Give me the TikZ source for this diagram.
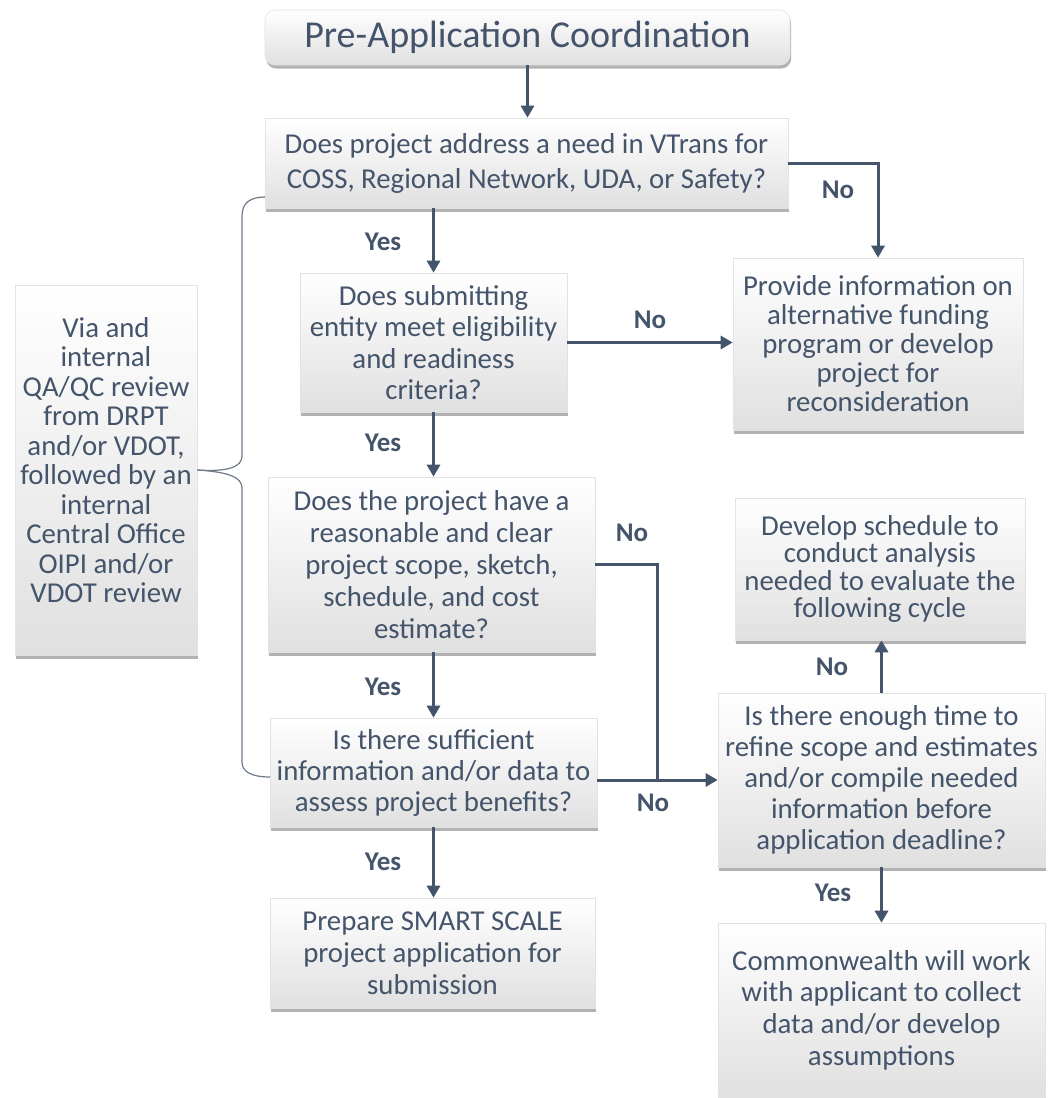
\documentclass[tikz,border=0pt]{standalone}
\usepackage{fontspec}
\setmainfont{Carlito}
\usetikzlibrary{shadows,arrows.meta,calc}
\definecolor{txt}{HTML}{44546A}
\definecolor{ln}{HTML}{44546A}
\definecolor{brc}{HTML}{6F7A8A}
\definecolor{bord}{HTML}{E2E2E2}
\definecolor{shd}{HTML}{E0E0E0}
\begin{document}
\begin{tikzpicture}[x=1pt,y=-1pt,
 box/.style={draw=bord, line width=0.6pt, top color=white, middle color=white, bottom color=shd,
   drop shadow={shadow xshift=1.2pt, shadow yshift=-3.5pt, fill=black!75, opacity=0.4},
   text=txt, inner sep=0pt, align=center},
 f/.style={font=\fontsize{28.8}{#1}\selectfont},
 lab/.style={text=txt, font=\fontsize{27}{30}\selectfont\bfseries},
 arr/.style={draw=ln, line width=3pt, -{Triangle[length=12pt,width=13pt]}},
 lin/.style={draw=ln, line width=3pt},
 brace/.style={draw=brc, line width=1.2pt}]
\useasboundingbox[fill=white] (0,0) rectangle (1049,1098);

\node[box, rounded corners=10pt, minimum width=525pt, minimum height=55pt,
  font=\fontsize{38}{44}\selectfont] (T) at (527.5,37.5) {Pre-Application Coordination};
\node[box, f=35, minimum width=523pt, minimum height=90pt] (A) at (526.5,163)
  {Does project address a need in VTrans for\\COSS, Regional Network, UDA, or Safety?};
\node[box, f=31.5, minimum width=267pt, minimum height=139pt] (B) at (433.5,342.5)
  {Does submitting\\entity meet eligibility\\and readiness\\criteria?};
\node[box, f=32, minimum width=327pt, minimum height=175pt] (C) at (431.5,564.5)
  {Does the project have a\\reasonable and clear\\project scope, sketch,\\schedule, and cost\\estimate?};
\node[box, f=31, minimum width=327pt, minimum height=109pt] (D) at (433.5,772.5)
  {Is there sufficient\\information and/or data to\\assess project benefits?};
\node[box, f=32, minimum width=325pt, minimum height=110pt] (F) at (432.5,953)
  {Prepare SMART SCALE\\project application for\\submission};
\node[box, f=29.5, minimum width=182pt, minimum height=370pt] (L) at (106,470)
  {Via and\\internal\\QA/QC review\\from DRPT\\and/or VDOT,\\followed by an\\internal\\Central Office\\OIPI and/or\\VDOT review\\[-9.5pt]};
\node[box, f=29, minimum width=290pt, minimum height=172pt] (P) at (878,344)
  {Provide information on\\alternative funding\\program or develop\\project for\\reconsideration};
\node[box, f=27.5, minimum width=290pt, minimum height=142pt] (G) at (880,569)
  {Develop schedule to\\conduct analysis\\needed to evaluate the\\following cycle};
\node[box, f=31, minimum width=327pt, minimum height=174pt] (E) at (881.5,780)
  {Is there enough time to\\refine scope and estimates\\and/or compile needed\\information before\\application deadline?};
\node[box, f=31.7, minimum width=327pt, minimum height=174pt] (H) at (881.5,1010)
  {Commonwealth will work\\with applicant to collect\\data and/or develop\\assumptions};

\coordinate (J) at (657,780);
\coordinate (bt) at (265,197);
\coordinate (bb) at (270,777);

% connectors
\draw[arr] (T.south) -- (T.south |- A.north);
\draw[arr] (A.east) -| (P.north);
\draw[arr] (B.north |- A.south) -- (B.north);
\draw[arr] (B.east) -- (B.east -| P.west);
\draw[arr] (B.south) -- (B.south |- C.north);
\draw[arr] (C.south -| B.south) -- (B.south |- D.north);
\draw[arr] (D.south -| B.south) -- (B.south |- F.north);
\draw[lin] (C.east) -| (J);
\draw[arr] (D.east |- E.west) -- (E.west);
\draw[arr] (E.north) -- (E.north |- G.south);
\draw[arr] (E.south) -- (E.south |- H.north);

% brace
\draw[brace] (bt) .. controls (250,197) and (242,203) .. (242,216) -- (242,456)
  .. controls (242,467) and (228,472) .. (L.east);
\draw[brace] (L.east) .. controls (228,472) and (242,477) .. (242,488) -- (242,762)
  .. controls (242,772) and (252,777) .. (bb);

% labels
\node[lab] (l1) at (838,190) {No};
\node[lab] (l2) at (383,242) {Yes};
\node[lab] (l3) at (650,320) {No};
\node[lab] (l4) at (383,443) {Yes};
\node[lab] (l5) at (632,533) {No};
\node[lab] (l6) at (383,687) {Yes};
\node[lab] (l7) at (653,803) {No};
\node[lab] (l8) at (383,862) {Yes};
\node[lab] (l9) at (832,667) {No};
\node[lab] (l10) at (833,893) {Yes};
\end{tikzpicture}
\end{document}
